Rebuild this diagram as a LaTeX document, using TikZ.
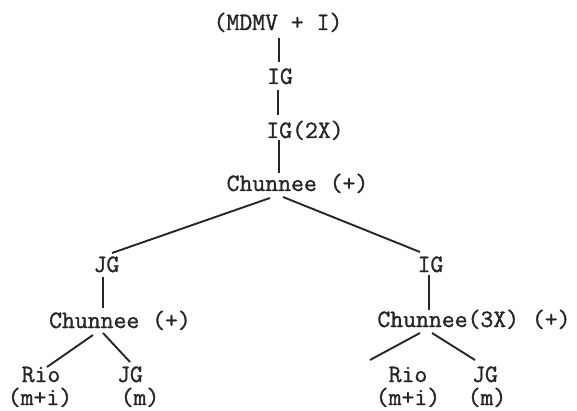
\documentclass[tikz,border=0pt]{standalone}
\usepackage{fontspec}
\newfontfamily\typew[FakeBold=1.2]{Latin Modern Mono}
\usetikzlibrary{calc}
\tikzset{
  lbl/.style={anchor=base, inner sep=0pt, font=\fontsize{25}{25}\selectfont\typew, text=black!85},
  conn/.style={line width=1.9pt, draw=black!85}
}
\begin{document}
\begin{tikzpicture}[x=1pt,y=-1pt]
\useasboundingbox (0,0) rectangle (577,411);
\node[lbl] (top)   at (278,30)  {(MDMV + I)};
\node[lbl] (ig)    at (280,84)  {IG};
\node[lbl] (ig2)   at (305,138) {IG(2X)};
\node[lbl] (ch)    at (297.5,191) {Chunnee (+)};
\node[lbl] (jgL)   at (106.5,272) {JG};
\node[lbl] (chL)   at (120,328) {Chunnee (+)};
\node[lbl] (rioL)  at (41,382)  {Rio};
\node[lbl] (rioLm) at (40,405)  {(m+i)};
\node[lbl] (jgLL)  at (130,382) {JG};
\node[lbl] (mL)    at (140,405) {(m)};
\node[lbl] (igR)   at (430.5,272) {IG};
\node[lbl] (chR)   at (474,327) {Chunnee(3X) (+)};
\node[lbl] (rioR)  at (408,382) {Rio};
\node[lbl] (rioRm) at (408,405) {(m+i)};
\node[lbl] (jgR)   at (485,382) {JG};
\node[lbl] (mR)    at (487,405) {(m)};

\draw[conn] ($(top.base)+(1,8)$) -- ($(ig.base)+(-1,-22)$);
\draw[conn] ($(ig.base)+(-2,6)$) -- ($(ig2.base)+(-27,-23)$);
\draw[conn] ($(ig2.base)+(-26,2)$) -- ($(ch.base)+(-18.5,-18)$);
\draw[conn] ($(ch.base)+(-27.5,7)$) -- ($(jgL.base)+(5.5,-19)$);
\draw[conn] ($(ch.base)+(-14.5,6)$) -- ($(igR.base)+(-10.5,-20)$);
\draw[conn] ($(jgL.base)+(-3.5,5)$) -- ($(chL.base)+(-17,-20)$);
\draw[conn] ($(igR.base)+(-1.5,3)$) -- ($(chR.base)+(-45,-17)$);
\draw[conn] ($(chL.base)+(-27,7)$) -- ($(rioL.base)+(6,-15)$);
\draw[conn] ($(chL.base)+(-17,5)$) -- ($(jgLL.base)+(0,-20)$);
\draw[conn] ($(chR.base)+(-54,6)$) -- ($(rioR.base)+(-38,-22)$);
\draw[conn] ($(chR.base)+(-42,6)$) -- ($(jgR.base)+(-10,-22)$);
\end{tikzpicture}
\end{document}
